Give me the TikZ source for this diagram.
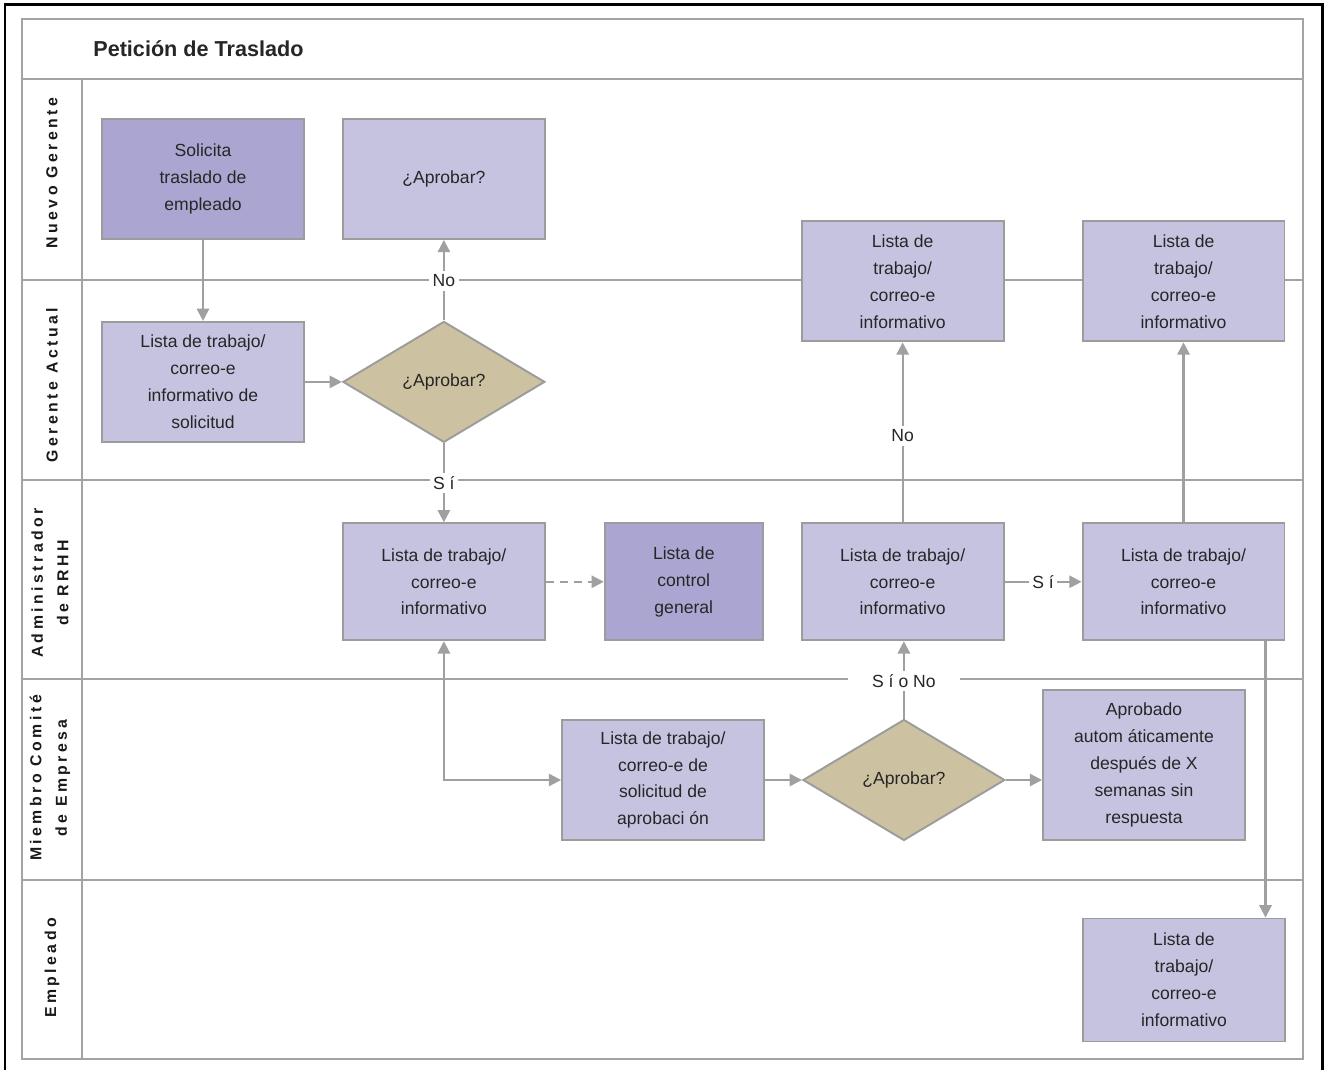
\documentclass[tikz,border=0pt]{standalone}
\usepackage{fontspec}
\setmainfont{Liberation Sans}
\newfontfamily\lanefont[LetterSpace=22]{Liberation Sans Bold}
\usetikzlibrary{shapes.geometric, positioning, arrows.meta}
\definecolor{lanegray}{HTML}{A3A3A3}
\definecolor{boxline}{HTML}{9C9C9C}
\definecolor{lightfill}{HTML}{C6C3E1}
\definecolor{darkfill}{HTML}{ABA6D1}
\definecolor{tanfill}{HTML}{CCC1A0}
\definecolor{arrowgray}{HTML}{A0A0A0}
\tikzset{
    process/.style={rectangle, minimum width=4.04cm, minimum height=2.4cm, inner sep=0pt, align=center, draw=boxline, line width=1.1pt, fill=lightfill, text=black!85, font=\fontsize{10}{15.3}\selectfont},
    request/.style={process, fill=darkfill},
    decision/.style={diamond, minimum width=4.04cm, minimum height=2.42cm, inner sep=0pt, align=center, draw=boxline, line width=1.1pt, fill=tanfill, text=black!85, font=\fontsize{10}{15.3}\selectfont},
    arrow/.style={draw=arrowgray, line width=1.2pt, ->, >={Triangle[length=7pt,width=7pt]}},
    lane/.style={draw=lanegray, line width=1.4pt},
    lanelabel/.style={rotate=90, align=center, text=black!90, font=\lanefont\fontsize{9}{14.5}\selectfont},
    choice/.style={fill=white, inner sep=2pt, text=black!85, font=\fontsize{10}{12}\selectfont}
}
\begin{document}
\begin{tikzpicture}[x=0.02cm, y=-0.02cm]
    \useasboundingbox (0,0) rectangle (1329,1070);
    % frame, pool and lanes
    \draw [line width=1.7pt] (5,1080) -- (5,5) -- (1322,5) -- (1322,1080);
    \draw [lane] (22,19) rectangle (1303,1059);
    \foreach \y in {79,280,480,679,880}
        \draw [lane] (22,\y) -- (1303,\y);
    \draw [lane] (82,79) -- (82,1059);

    \node (title) [anchor=west, inner sep=0pt, text=black!85, font=\bfseries\fontsize{12.3}{14}\selectfont] at (93,49) {Petición de Traslado};

    \node (lblng) [lanelabel] at (52,173) {Nuevo Gerente};
    \node (lblga) [lanelabel] at (52,385) {Gerente Actual};
    \node (lblar) [lanelabel] at (50,583) {Administrador\\de RRHH};
    \node (lblmc) [lanelabel] at (50,778) {Miembro Comité\\de Empresa};
    \node (lblemp) [lanelabel] at (52,968) {Empleado};

    % steps
    \node (solicita) [request] at (203,179) {Solicita\\traslado de\\empleado};
    \node (ngapr) [process, right=0.74cm of solicita] {¿Aprobar?};
    \node (gabox) [process, below=1.62cm of solicita] {Lista de trabajo/\\correo-e\\informativo de\\solicitud};
    \node (gadiam) [decision, right=0.74cm of gabox] {¿Aprobar?};
    \node (ar1) [process, minimum height=2.34cm, below=1.58cm of gadiam] {Lista de trabajo/\\correo-e\\informativo};
    \node (ctrl) [request, minimum width=3.16cm, minimum height=2.34cm, right=1.16cm of ar1] {Lista de\\control\\general};
    \node (ar2) [process, minimum height=2.34cm, right=0.74cm of ctrl] {Lista de trabajo/\\correo-e\\informativo};
    \node (ar3) [process, minimum height=2.34cm, right=1.54cm of ar2] {Lista de trabajo/\\correo-e\\informativo};
    \node (ng1) [process, above=3.6cm of ar2] {Lista de\\trabajo/\\correo-e\\informativo};
    \node (ng2) [process, above=3.6cm of ar3] {Lista de\\trabajo/\\correo-e\\informativo};
    \node (mcbox) [process] at (663,780) {Lista de trabajo/\\correo-e de\\solicitud de\\aprobaci ón};
    \node (mcdiam) [decision, right=0.74cm of mcbox] {¿Aprobar?};
    \node (aprob) [process, minimum height=3cm] at (1144,765) {Aprobado\\autom áticamente\\después de X\\semanas sin\\respuesta};
    \node (emp) [process, minimum height=2.46cm] at (1184,980) {Lista de\\trabajo/\\correo-e\\informativo};

    % flow
    \draw [arrow] (solicita) -- (gabox);
    \draw [arrow] (gabox) -- (gadiam);
    \draw [arrow] (gadiam) -- node[choice, pos=0.49] {No} (ngapr);
    \draw [arrow] (gadiam) -- node[choice] {S í} (ar1);
    \draw [arrow, dash pattern=on 4.5pt off 3.5pt] (ar1) -- (ctrl);
    \draw [arrow, <->] (ar1) |- (mcbox);
    \draw [arrow] (mcbox) -- (mcdiam);
    \draw [arrow] (mcdiam.east) -- (mcdiam.east -| aprob.west);
    \draw [arrow] (mcdiam.north) -- node[choice, inner xsep=14pt, pos=0.49] {S í o No} (mcdiam.north |- ar2.south);
    \draw [arrow] (ar2) -- node[choice, pos=0.48] {No} (ng1);
    \draw [arrow] (ar2) -- node[choice] {S í} (ar3);
    \draw [arrow] (ar3) -- (ng2);
    \draw [arrow] ([xshift=-0.4cm]ar3.south east) -- ([xshift=-0.4cm]ar3.south east |- emp.north);
\end{tikzpicture}
\end{document}
